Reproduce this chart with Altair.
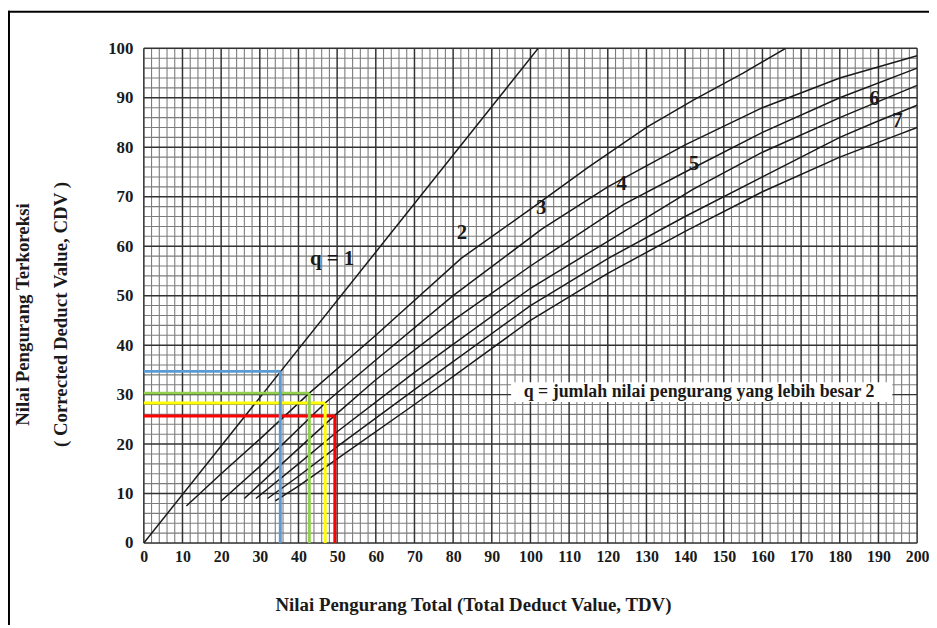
import altair as alt
import pandas as pd

# ---- data ----
q1_tdv = [0, 102]
q1_cdv = [0, 100]
q2_tdv = [11, 20, 30, 42.8, 60, 82, 100, 115, 130, 142, 155, 166]
q2_cdv = [7.5, 14, 21, 30.3, 42, 57.5, 67.5, 76, 84, 89.5, 95, 100]
q3_tdv = [20, 30, 46.9, 60, 80, 103, 120, 140, 160, 180, 200]
q3_cdv = [8.5, 15.5, 28.3, 37, 50, 63.5, 72, 80.5, 88, 94, 98.5]
q4_tdv = [26, 35, 49.4, 60, 80, 100, 124, 140, 160, 180, 200]
q4_cdv = [9, 15.5, 25.8, 33, 45, 56, 68.4, 75, 83, 90, 96]
q5_tdv = [29, 40, 50, 70, 100, 120, 142, 160, 180, 200]
q5_cdv = [9, 16, 22.5, 34.5, 51.5, 61, 71.5, 79, 86, 92.5]
q6_tdv = [32, 40, 50, 70, 100, 120, 140, 160, 180, 189, 200]
q6_cdv = [9, 13.5, 19.5, 31, 48, 57.5, 66, 74, 82, 85, 88.5]
q7_tdv = [34, 40, 50, 70, 100, 120, 140, 160, 180, 195, 200]
q7_cdv = [8.5, 11.5, 17, 28, 45, 54.5, 63, 71, 78, 82.5, 84]

label_text = ["q = 1", "2", "3", "4", "5", "6", "7"]
label_tdv = [48.7, 82.3, 102.8, 123.6, 142.3, 189, 194.9]
label_cdv = [57.5, 62.7, 67.7, 72.5, 76.6, 89.8, 85.2]

read_name = ["blue", "green", "yellow", "red"]
read_tdv = [35.3, 42.8, 46.9, 49.4]
read_cdv = [34.7, 30.3, 28.3, 25.7]
read_color = ["#5B9BD5", "#92D050", "#FFFF00", "#FF0000"]

note_text = ["q = jumlah nilai pengurang yang lebih besar 2"]
note_tdv = [143.6]
note_cdv = [30.5]
note_box_tdv = [95, 193.6]
note_box_cdv = [28.5, 32.5]

x_ticks = list(range(0, 201, 10))
y_ticks = list(range(0, 101, 10))
x_minor = [v for v in range(0, 201, 2) if v % 10]
y_minor = [v for v in range(0, 101, 2) if v % 10]

# ---- tables ----
rows = []
for q, xs, ys in [(1, q1_tdv, q1_cdv), (2, q2_tdv, q2_cdv), (3, q3_tdv, q3_cdv),
                  (4, q4_tdv, q4_cdv), (5, q5_tdv, q5_cdv), (6, q6_tdv, q6_cdv),
                  (7, q7_tdv, q7_cdv)]:
    for i, (a, b) in enumerate(zip(xs, ys)):
        rows.append({"q": q, "i": i, "tdv": a, "cdv": b})
curves = pd.DataFrame(rows)
labels = pd.DataFrame({"t": label_text, "tdv": label_tdv, "cdv": label_cdv})
reads = pd.DataFrame({"name": read_name, "tdv": read_tdv, "cdv": read_cdv,
                      "c": read_color, "zero": [0] * 4})
note = pd.DataFrame({"t": note_text, "tdv": note_tdv, "cdv": note_cdv,
                     "x1": [note_box_tdv[0]], "x2": [note_box_tdv[1]],
                     "y1": [note_box_cdv[0]], "y2": [note_box_cdv[1]]})

xs_ = alt.Scale(domain=[0, 200], nice=False, zero=False)
ys_ = alt.Scale(domain=[0, 100], nice=False)
FONT = "Liberation Serif"

x_axis = alt.Axis(values=x_ticks, format="d", grid=False, ticks=False, domain=False,
                  labelFont=FONT, labelFontSize=16, labelFontWeight="bold",
                  labelColor="#1a1a1a", labelPadding=6,
                  labelFlush=False, labelOverlap=False, labelBound=False,
                  title="Nilai Pengurang Total (Total Deduct Value, TDV)",
                  titleFont=FONT, titleFontSize=19, titleFontWeight="bold",
                  titleColor="#1a1a1a", titleX=332, titleY=62, titleBaseline="middle",
                  titleAlign="center")
y_axis = alt.Axis(values=y_ticks, format="d", grid=False, ticks=False, domain=False,
                  labelFont=FONT, labelFontSize=17, labelFontWeight="bold",
                  labelColor="#1a1a1a", labelPadding=11,
                  labelFlush=False, labelOverlap=False, labelBound=False,
                  title=["Nilai Pengurang Terkoreksi", "( Corrected Deduct Value, CDV )"],
                  titleFont=FONT, titleFontSize=19, titleFontWeight="bold",
                  titleColor="#1a1a1a", titleAngle=270, titleX=-122, titleY=268,
                  titleBaseline="middle", titleAlign="center", titleLineHeight=38)


def X(f):
    return alt.X(f, scale=xs_, axis=x_axis)


def Y(f):
    return alt.Y(f, scale=ys_, axis=y_axis)


xminor = alt.Chart(pd.DataFrame({"v": x_minor})).mark_rule(
    color="#7c7c7c", strokeWidth=1.1).encode(x=X("v:Q"))
yminor = alt.Chart(pd.DataFrame({"v": y_minor})).mark_rule(
    color="#7c7c7c", strokeWidth=1.1).encode(y=Y("v:Q"))
xmajor = alt.Chart(pd.DataFrame({"v": x_ticks})).mark_rule(
    color="#333333", strokeWidth=1.5).encode(x=X("v:Q"))
ymajor = alt.Chart(pd.DataFrame({"v": y_ticks})).mark_rule(
    color="#333333", strokeWidth=1.5).encode(y=Y("v:Q"))

lines = alt.Chart(curves).mark_line(color="#1a1a1a", strokeWidth=1.5, clip=True).encode(
    x=X("tdv:Q"), y=Y("cdv:Q"), detail="q:N", order="i:Q")

hrule = alt.Chart(reads).mark_rule(strokeWidth=3).encode(
    x=X("zero:Q"), x2="tdv:Q", y=Y("cdv:Q"), color=alt.Color("c:N", scale=None))
vrule = alt.Chart(reads).mark_rule(strokeWidth=3).encode(
    x=X("tdv:Q"), y=Y("zero:Q"), y2="cdv:Q", color=alt.Color("c:N", scale=None))

box = alt.Chart(note).mark_rect(color="white").encode(
    x=X("x1:Q"), x2="x2:Q", y=Y("y1:Q"), y2="y2:Q")
note_t = alt.Chart(note).mark_text(font=FONT, fontSize=18, fontWeight="bold",
                                   color="#1a1a1a").encode(
    x=X("tdv:Q"), y=Y("cdv:Q"), text="t:N")
lab = alt.Chart(labels).mark_text(font=FONT, fontSize=21, fontWeight="bold",
                                  color="#1a1a1a").encode(
    x=X("tdv:Q"), y=Y("cdv:Q"), text="t:N")

frame_top = alt.Chart(pd.DataFrame({"a": [0]})).mark_rule(color="black", strokeWidth=2).encode(
    x=alt.value(-137), x2=alt.value(800), y=alt.value(-37))
frame_left = alt.Chart(pd.DataFrame({"a": [0]})).mark_rule(color="black", strokeWidth=2).encode(
    x=alt.value(-136), y=alt.value(-38), y2=alt.value(600))

chart = alt.layer(xminor, yminor, xmajor, ymajor, lines, hrule, vrule, box, note_t, lab,
                  frame_top, frame_left).properties(
    width=780, height=499,
    padding={"left": 137, "top": 38, "right": 12, "bottom": 80},
    autosize=alt.AutoSizeParams(type="none"),
).configure_view(stroke=None).configure(background="white")

chart.save("out.html", embed_options={"renderer": "svg", "actions": False})
